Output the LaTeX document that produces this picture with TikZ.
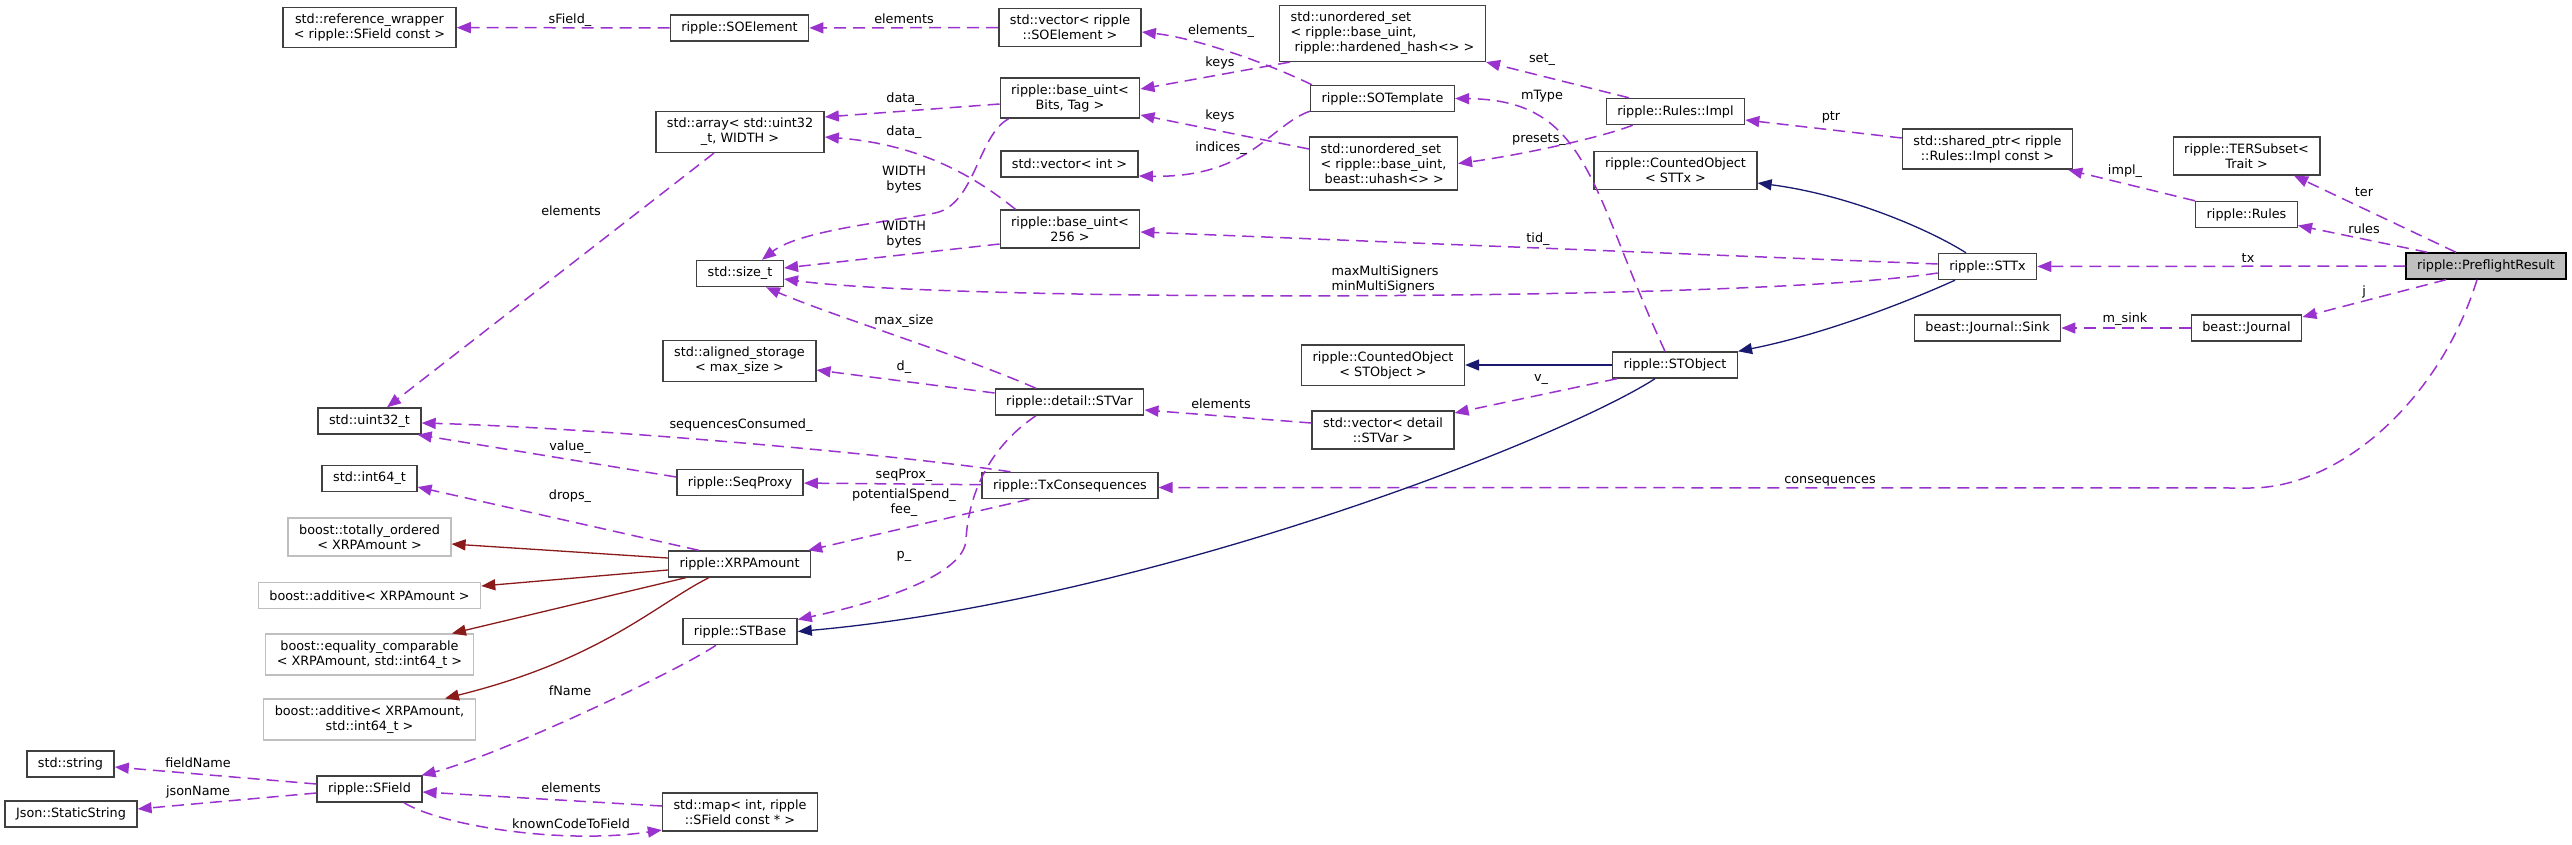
\documentclass[tikz,border=0pt]{standalone}
\usepackage{fontspec}
\setmainfont{DejaVu Sans}
\usetikzlibrary{arrows.meta}
\definecolor{edgeuse}{HTML}{9A32CD}
\definecolor{edgepub}{HTML}{191970}
\definecolor{edgepriv}{HTML}{8B1A1A}
\definecolor{boxline}{HTML}{404040}
\definecolor{extline}{HTML}{BFBFBF}
\definecolor{mainfill}{HTML}{BFBFBF}
\tikzset{
  cls/.style={draw=boxline, line width=1.4pt, fill=white, align=center,
    inner xsep=11pt, inner ysep=6.5pt, minimum height=26pt},
  extcls/.style={cls, draw=extline},
  maincls/.style={cls, draw=black, fill=mainfill},
  member/.style={edgeuse, line width=1.5pt, dash pattern=on 12pt off 7pt,
    -{Triangle[length=14pt,width=11pt]}},
  pubinh/.style={edgepub, line width=1.3pt, -{Triangle[length=14pt,width=11pt]}},
  privinh/.style={edgepriv, line width=1.3pt, -{Triangle[length=14pt,width=11pt]}},
  lbl/.style={inner sep=0pt, align=center},
}
\begin{document}
\begin{tikzpicture}[x=1pt, y=-1pt, font=\fontsize{12.8pt}{15pt}\selectfont]
\useasboundingbox (0,0) rectangle (2572,844);

% classes, column by column
\node[cls] (string) at (70.5,764) {std::string};
\node[cls] (jsonstr) at (71,814) {Json::StaticString};

\node[cls] (refwrap) at (369.5,27.5) {std::reference\_wrapper\\< ripple::SField const >};
\node[cls] (uint32) at (369.5,421) {std::uint32\_t};
\node[cls] (int64) at (369.5,478.5) {std::int64\_t};
\node[extcls] (totord) at (369.5,537) {boost::totally\_ordered\\< XRPAmount >};
\node[extcls] (addxrp) at (369.5,595.5) {boost::additive< XRPAmount >};
\node[extcls] (eqcmp) at (369.5,654.5) {boost::equality\_comparable\\< XRPAmount, std::int64\_t >};
\node[extcls] (addint) at (369.5,719.5) {boost::additive< XRPAmount,\\std::int64\_t >};
\node[cls] (sfield) at (369.5,789) {ripple::SField};

\node[cls] (soelem) at (739.5,28) {ripple::SOElement};
\node[cls] (array) at (740,132) {std::array< std::uint32\\\_t, WIDTH >};
\node[cls] (sizet) at (740,273.5) {std::size\_t};
\node[cls] (aligned) at (739.5,361) {std::aligned\_storage\\< max\_size >};
\node[cls] (seqproxy) at (740,482.5) {ripple::SeqProxy};
\node[cls] (xrpamt) at (739.5,564) {ripple::XRPAmount};
\node[cls] (stbase) at (740,631.5) {ripple::STBase};
\node[cls] (map) at (740,812) {std::map< int, ripple\\::SField const * >};

\node[cls] (vecsoelem) at (1070,27.5) {std::vector< ripple\\::SOElement >};
\node[cls] (baseuint) at (1070,98) {ripple::base\_uint<\\Bits, Tag >};
\node[cls] (vecint) at (1069.5,164) {std::vector< int >};
\node[cls] (base256) at (1070,229) {ripple::base\_uint<\\256 >};
\node[cls] (stvar) at (1069.5,402) {ripple::detail::STVar};
\node[cls] (txcons) at (1070,485.5) {ripple::TxConsequences};

\node[cls, align=left] (sethard) at (1382.5,33.5) {std::unordered\_set\\< ripple::base\_uint,\\\hspace*{4pt}ripple::hardened\_hash<> >};
\node[cls] (sotmpl) at (1382.5,98.5) {ripple::SOTemplate};
\node[cls, align=left] (setuhash) at (1383.5,163.5) {std::unordered\_set\\< ripple::base\_uint,\\\hspace*{4pt}beast::uhash<> >};
\node[cls] (cntstobj) at (1383,365) {ripple::CountedObject\\< STObject >};
\node[cls] (vecstvar) at (1383,430) {std::vector< detail\\::STVar >};

\node[cls] (impl) at (1675.5,111.5) {ripple::Rules::Impl};
\node[cls] (cntsttx) at (1675.5,170.5) {ripple::CountedObject\\< STTx >};
\node[cls] (stobj) at (1675,365) {ripple::STObject};

\node[cls] (sharedptr) at (1987.5,149) {std::shared\_ptr< ripple\\::Rules::Impl const >};
\node[cls] (sttx) at (1987.5,266.5) {ripple::STTx};
\node[cls] (sink) at (1987.5,328) {beast::Journal::Sink};

\node[cls] (tersub) at (2246.5,156) {ripple::TERSubset<\\Trait >};
\node[cls] (rules) at (2246.5,214.5) {ripple::Rules};
\node[cls] (journal) at (2246.5,328) {beast::Journal};

\node[maincls] (pfr) at (2486,266) {ripple::PreflightResult};

% members
\draw[member] (soelem) -- (refwrap);
\draw[member] (vecsoelem) -- (soelem);
\draw[member] ([xshift=2pt]sotmpl.north west) .. controls (1265,62) and (1195,38) .. ([yshift=-4.5pt]vecsoelem.east);
\draw[member] ([xshift=11pt]sethard.south west) -- ([yshift=9pt]baseuint.east);
\draw[member] ([yshift=14.5pt]setuhash.west) -- ([yshift=-17pt]baseuint.east);
\draw[member] ([yshift=1pt]sotmpl.south west) .. controls (1270,125) and (1250,178) .. ([yshift=-12pt]vecint.east);
\draw[member] ([yshift=-6pt]baseuint.west) -- ([yshift=15pt]array.east);
\draw[member] ([xshift=16pt]base256.north west) .. controls (985,185) and (930,145) .. ([yshift=-5pt]array.east);
\draw[member] ([xshift=9pt]baseuint.south west) .. controls (978,135) and (975,205) .. (935,213)
  .. controls (895,221) and (800,230) .. ([xshift=22pt]sizet.north);
\draw[member] ([yshift=-15pt]base256.west) -- ([yshift=5.5pt]sizet.east);
\draw[member] ([yshift=-6.5pt]sttx.west) .. controls (1750,302) and (950,302) .. ([yshift=-5.5pt]sizet.east);
\draw[member] ([xshift=-33.5pt]stvar.north) .. controls (960,355) and (830,315) .. ([xshift=26pt]sizet.south);
\draw[member] ([yshift=9pt]stvar.west) -- ([yshift=-9pt]aligned.east);
\draw[member] ([xshift=-26pt]array.south) -- ([xshift=17.5pt]uint32.north);
\draw[member] ([xshift=29pt]txcons.north west) .. controls (900,455) and (600,428) .. ([yshift=-2pt]uint32.east);
\draw[member] ([yshift=5.5pt]seqproxy.west) -- ([xshift=-4pt]uint32.south east);
\draw[member] ([xshift=31pt]xrpamt.north west) -- ([yshift=-8.5pt]int64.east);
\draw[member] (txcons) -- (seqproxy);
\draw[member] ([xshift=48pt]txcons.south west) -- ([xshift=-3pt]xrpamt.north east);
\draw[member] ([xshift=-33.5pt]stvar.south) .. controls (985,450) and (968,500) .. (966,540)
  .. controls (964,575) and (880,602) .. ([yshift=12pt]stbase.east);
\draw[member] ([xshift=5pt]stobj.south west) -- ([yshift=17pt]vecstvar.east);
\draw[member] ([yshift=7pt]vecstvar.west) -- ([yshift=-8pt]stvar.east);
\draw[member] ([xshift=-10pt]stobj.north) .. controls (1590,190) and (1590,100) .. (sotmpl.east);
\draw[member] ([yshift=2.5pt]sttx.west) -- ([yshift=-3pt]base256.east);
\draw[member] ([xshift=-46.5pt]impl.north) -- (sethard.south east);
\draw[member] ([xshift=27pt]impl.south west) .. controls (1600,138) and (1520,155) .. (setuhash.east);
\draw[member] ([yshift=11pt]sharedptr.west) -- ([yshift=-8.5pt]impl.east);
\draw[member] (rules.north west) -- ([xshift=-5pt]sharedptr.south east);
\draw[member] ([xshift=-30pt]pfr.north) -- ([xshift=47.5pt]tersub.south);
\draw[member] ([xshift=22pt]pfr.north west) -- ([yshift=-11pt]rules.east);
\draw[member] (pfr) -- (sttx);
\draw[member] ([xshift=-40pt]pfr.south) -- ([yshift=11pt]journal.east);
\draw[member] (journal) -- (sink);
\draw[member] ([xshift=-9pt]pfr.south) .. controls (2440,400) and (2340,488) .. (2250,488) -- ([yshift=-2pt]txcons.east);
\draw[member] ([xshift=-24pt]stbase.south) .. controls (680,670) and (500,755) .. ([xshift=-1pt]sfield.north east);
\draw[member] ([yshift=5pt]sfield.west) -- ([yshift=-3pt]string.east);
\draw[member] ([yshift=-4pt]sfield.west) -- ([yshift=5pt]jsonstr.east);
\draw[member] ([yshift=6pt]map.west) -- ([yshift=-3pt]sfield.east);
\draw[member] ([xshift=34.5pt]sfield.south) .. controls (440,825) and (560,845) .. ([yshift=-18pt]map.west);

% bases
\draw[pubinh] ([xshift=-20pt]stobj.south) .. controls (1560,440) and (1150,600) .. (stbase.east);
\draw[pubinh] (stobj) -- (cntstobj);
\draw[pubinh] ([xshift=-32.5pt]sttx.south) .. controls (1900,305) and (1820,335) .. (stobj.north east);
\draw[pubinh] ([xshift=-21.5pt]sttx.north) .. controls (1930,230) and (1850,195) .. ([yshift=-12.5pt]cntsttx.east);
\draw[privinh] ([yshift=6pt]xrpamt.west) -- ([yshift=-7pt]totord.east);
\draw[privinh] ([yshift=-6pt]xrpamt.west) -- ([yshift=9.5pt]addxrp.east);
\draw[privinh] ([xshift=18pt]xrpamt.south west) -- ([xshift=-22pt]eqcmp.north east);
\draw[privinh] ([xshift=41pt]xrpamt.south west) .. controls (655,605) and (600,660) .. ([xshift=-31pt]addint.north east);

% edge labels
\node[lbl] (t-sfield) at (570,20) {sField\_};
\node[lbl] (t-elem1) at (904,19) {elements};
\node[lbl] (t-elem2) at (1221,31) {elements\_};
\node[lbl] (t-keys1) at (1220,63) {keys};
\node[lbl] (t-keys2) at (1220,116) {keys};
\node[lbl] (t-indices) at (1221,148) {indices\_};
\node[lbl] (t-data1) at (904,99) {data\_};
\node[lbl] (t-data2) at (904,132) {data\_};
\node[lbl] (t-width1) at (904,180) {WIDTH\\bytes};
\node[lbl] (t-width2) at (904,235) {WIDTH\\bytes};
\node[lbl] (t-maxsize) at (904,321) {max\_size};
\node[lbl] (t-d) at (904,367) {d\_};
\node[lbl] (t-elem3) at (1221,404) {elements};
\node[lbl] (t-elem4) at (571,211) {elements};
\node[lbl] (t-seqcons) at (741,425) {sequencesConsumed\_};
\node[lbl] (t-set) at (1542,60) {set\_};
\node[lbl] (t-mtype) at (1542,96) {mType};
\node[lbl] (t-presets) at (1539,140) {presets\_};
\node[lbl] (t-ptr) at (1831,117) {ptr};
\node[lbl] (t-tid) at (1538,239) {tid\_};
\node[lbl, align=left] (t-multisig) at (1385,279) {maxMultiSigners\\minMultiSigners};
\node[lbl] (t-v) at (1541,380) {v\_};
\node[lbl] (t-impl) at (2125,171) {impl\_};
\node[lbl] (t-ter) at (2364,192) {ter};
\node[lbl] (t-rules) at (2364,229) {rules};
\node[lbl] (t-tx) at (2248,258) {tx};
\node[lbl] (t-j) at (2364,292) {j};
\node[lbl] (t-msink) at (2125,319) {m\_sink};
\node[lbl] (t-value) at (570,447) {value\_};
\node[lbl] (t-drops) at (570,496) {drops\_};
\node[lbl] (t-fname) at (570,691) {fName};
\node[lbl] (t-fieldname) at (198,763) {fieldName};
\node[lbl] (t-jsonname) at (198,792) {jsonName};
\node[lbl] (t-elem5) at (571,788) {elements};
\node[lbl] (t-known) at (571,824) {knownCodeToField};
\node[lbl] (t-seqprox) at (904,475) {seqProx\_};
\node[lbl] (t-spend) at (904,503) {potentialSpend\_\\fee\_};
\node[lbl] (t-p) at (904,556) {p\_};
\node[lbl] (t-conseq) at (1830,481) {consequences};
\end{tikzpicture}
\end{document}
